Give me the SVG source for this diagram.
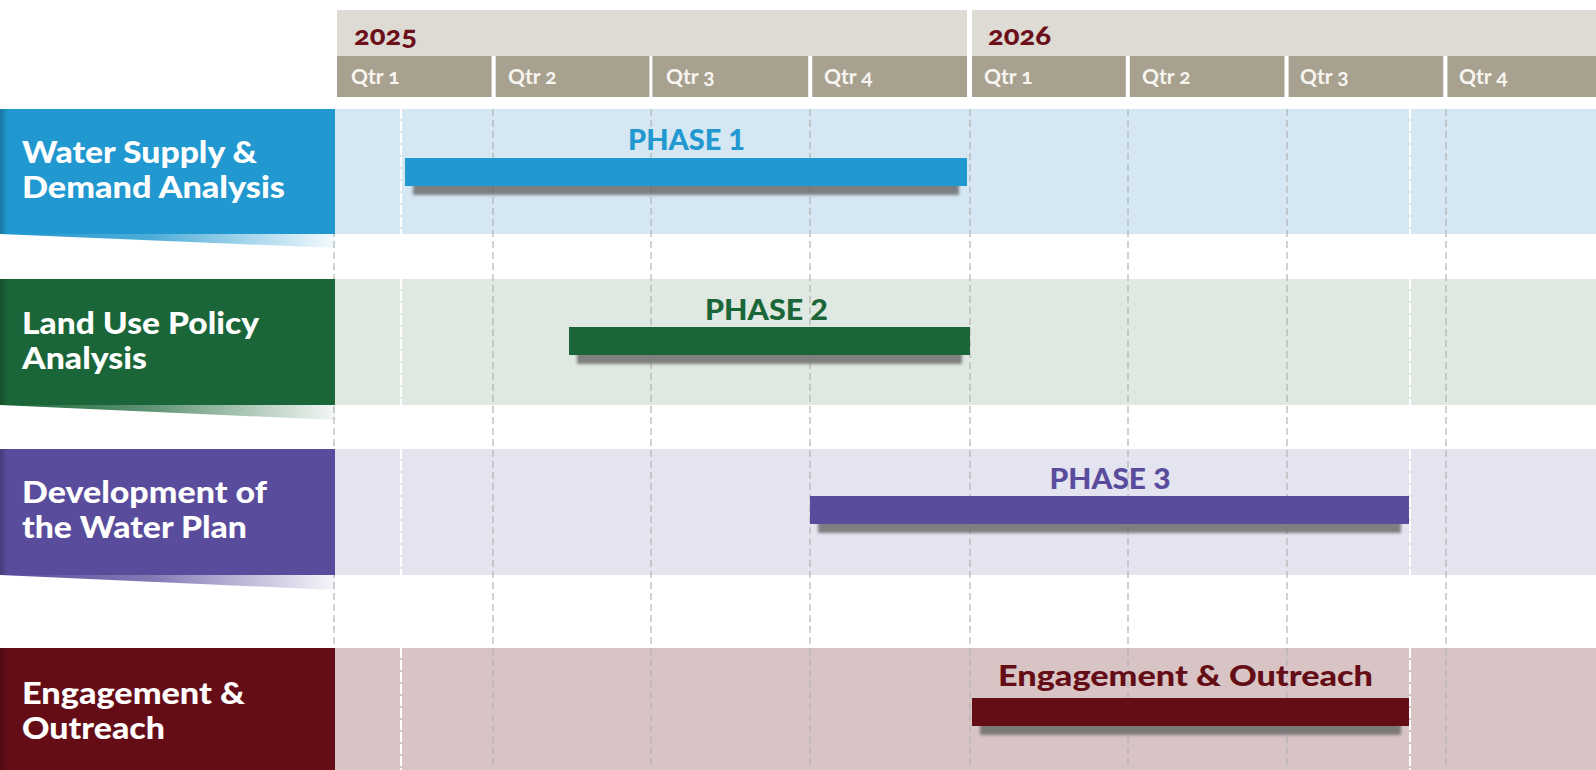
<svg xmlns="http://www.w3.org/2000/svg" width="1596" height="770" viewBox="0 0 1596 770">
<defs>
<style>
text{font-family:Lato,"Open Sans","Liberation Sans",sans-serif;font-weight:900}
.yr{fill:#6b0f1a;font-size:27px;font-variant-numeric:oldstyle-nums}
.qt{fill:#f7f5ef;font-size:21px;font-weight:700;font-variant-numeric:oldstyle-nums}
.lbl{fill:#fff;font-size:31px}
.ph{font-size:28px;text-anchor:middle}
.ybg{fill:#dedbd4}
.qbg{fill:#a8a18f}
.gl{stroke:#b3b3b3;stroke-width:1.2;stroke-dasharray:7 4;fill:none}
.wl{stroke:#fff;stroke-width:2;stroke-dasharray:10 2;fill:none}
.shadow{fill:#666;opacity:0.8}
</style>
<filter id="sh" x="-5%" y="-60%" width="110%" height="220%"><feGaussianBlur stdDeviation="1.6"/></filter>
<linearGradient id="edge" x1="0" x2="1" y1="0" y2="0"><stop offset="0" stop-color="#000" stop-opacity="0.22"/><stop offset="1" stop-color="#000" stop-opacity="0"/></linearGradient>
<linearGradient id="w1" x1="0" x2="1" y1="0" y2="0"><stop offset="0" stop-color="#2198cf"/><stop offset="0.45" stop-color="#2198cf" stop-opacity="0.8"/><stop offset="1" stop-color="#2198cf" stop-opacity="0.05"/></linearGradient>
<linearGradient id="w2" x1="0" x2="1" y1="0" y2="0"><stop offset="0" stop-color="#1b6638"/><stop offset="0.45" stop-color="#1b6638" stop-opacity="0.7"/><stop offset="1" stop-color="#1b6638" stop-opacity="0.05"/></linearGradient>
<linearGradient id="w3" x1="0" x2="1" y1="0" y2="0"><stop offset="0" stop-color="#5a4c9c"/><stop offset="0.45" stop-color="#5a4c9c" stop-opacity="0.75"/><stop offset="1" stop-color="#5a4c9c" stop-opacity="0.05"/></linearGradient>
</defs>
<rect width="1596" height="770" fill="#fff"/>

<g id="header">
<rect class="ybg" x="337" y="10" width="630" height="46"/>
<rect class="ybg" x="972" y="10" width="624" height="46"/>
<text class="yr" x="354" y="45" textLength="63" lengthAdjust="spacingAndGlyphs">2025</text>
<text class="yr" x="988" y="45" textLength="63" lengthAdjust="spacingAndGlyphs">2026</text>
<rect class="qbg" x="337" y="56" width="154.6" height="41"/>
<rect class="qbg" x="495.7" y="56" width="153.7" height="41"/>
<rect class="qbg" x="652.4" y="56" width="155.8" height="41"/>
<rect class="qbg" x="812.3" y="56" width="154.7" height="41"/>
<rect class="qbg" x="972" y="56" width="153.8" height="41"/>
<rect class="qbg" x="1129.8" y="56" width="154.7" height="41"/>
<rect class="qbg" x="1288.6" y="56" width="154.7" height="41"/>
<rect class="qbg" x="1447.4" y="56" width="148.6" height="41"/>
<text class="qt" x="351" y="84">Qtr 1</text>
<text class="qt" x="508" y="84">Qtr 2</text>
<text class="qt" x="666" y="84">Qtr 3</text>
<text class="qt" x="824" y="84">Qtr 4</text>
<text class="qt" x="984" y="84">Qtr 1</text>
<text class="qt" x="1142" y="84">Qtr 2</text>
<text class="qt" x="1300" y="84">Qtr 3</text>
<text class="qt" x="1459" y="84">Qtr 4</text>
</g>

<g id="bands">
<rect x="335" y="109" width="1261" height="125" fill="#d4e7f2"/>
<rect x="335" y="279" width="1261" height="126" fill="#dfe9e1"/>
<rect x="335" y="449" width="1261" height="126" fill="#e4e3f0"/>
<rect x="335" y="648" width="1261" height="122" fill="#d8c3c5"/>
</g>

<g id="gridlines">
<path class="gl" d="M334 109V770M493 109V770M651 109V770M810 109V770M970 109V770M1128 109V770M1287 109V770M1446 109V770"/>
<path class="wl" d="M401 109V234M401 279V405M401 449V575M401 648V770M1410 109V234M1410 279V405M1410 449V575M1410 648V770"/>
</g>

<g id="row1">
<polygon points="0,234 335,234 335,248" fill="url(#w1)"/>
<rect x="0" y="109" width="335" height="125" fill="#2198cf"/>
<rect x="0" y="109" width="8" height="125" fill="url(#edge)"/>
<text class="lbl" x="22" y="163" textLength="235" lengthAdjust="spacingAndGlyphs">Water Supply &amp;</text>
<text class="lbl" x="22" y="198" textLength="263" lengthAdjust="spacingAndGlyphs">Demand Analysis</text>
</g>
<g id="row2">
<polygon points="0,405 335,405 335,420" fill="url(#w2)"/>
<rect x="0" y="279" width="335" height="126" fill="#1b6638"/>
<rect x="0" y="279" width="8" height="126" fill="url(#edge)"/>
<text class="lbl" x="22" y="334" textLength="237" lengthAdjust="spacingAndGlyphs">Land Use Policy</text>
<text class="lbl" x="22" y="369" textLength="125" lengthAdjust="spacingAndGlyphs">Analysis</text>
</g>
<g id="row3">
<polygon points="0,575 335,575 335,590" fill="url(#w3)"/>
<rect x="0" y="449" width="335" height="126" fill="#5a4c9c"/>
<rect x="0" y="449" width="8" height="126" fill="url(#edge)"/>
<text class="lbl" x="22" y="503" textLength="245" lengthAdjust="spacingAndGlyphs">Development of</text>
<text class="lbl" x="22" y="538" textLength="225" lengthAdjust="spacingAndGlyphs">the Water Plan</text>
</g>
<g id="row4">
<rect x="0" y="648" width="335" height="122" fill="#650d16"/>
<rect x="0" y="648" width="8" height="122" fill="url(#edge)"/>
<text class="lbl" x="22" y="704" textLength="223" lengthAdjust="spacingAndGlyphs">Engagement &amp;</text>
<text class="lbl" x="22" y="739" textLength="143" lengthAdjust="spacingAndGlyphs">Outreach</text>
</g>

<g id="phase1">
<rect class="shadow" x="413" y="168" width="546" height="27" filter="url(#sh)"/>
<rect x="405" y="158" width="562" height="28" fill="#2198cf"/>
<text class="ph" x="686.5" y="150" fill="#2198cf" textLength="117" lengthAdjust="spacingAndGlyphs">PHASE 1</text>
</g>
<g id="phase2">
<rect class="shadow" x="577" y="337" width="385" height="27" filter="url(#sh)"/>
<rect x="569" y="327" width="401" height="28" fill="#1b6638"/>
<text class="ph" x="766.5" y="320" fill="#1b6638" textLength="123" lengthAdjust="spacingAndGlyphs">PHASE 2</text>
</g>
<g id="phase3">
<rect class="shadow" x="818" y="506" width="583" height="27" filter="url(#sh)"/>
<rect x="810" y="496" width="599" height="28" fill="#5a4c9c"/>
<text class="ph" x="1110" y="489" fill="#5a4c9c" textLength="121" lengthAdjust="spacingAndGlyphs">PHASE 3</text>
</g>
<g id="engagement">
<rect class="shadow" x="980" y="708" width="421" height="27" filter="url(#sh)"/>
<rect x="972" y="698" width="437" height="28" fill="#650d16"/>
<text class="ph" x="1185.5" y="686" fill="#650d16" font-size="30" textLength="375" lengthAdjust="spacingAndGlyphs">Engagement &amp; Outreach</text>
</g>
</svg>
